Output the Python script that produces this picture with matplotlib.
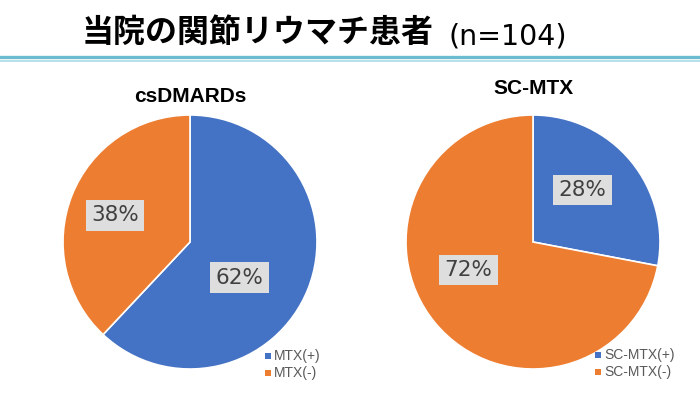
import matplotlib
matplotlib.use("Agg")
import matplotlib.pyplot as plt
from matplotlib.lines import Line2D

title_main = "当院の関節リウマチ患者"
title_n = "(n=104)"
left_title = "csDMARDs"
left_labels = ["MTX(+)", "MTX(-)"]
left_values = [62, 38]
right_title = "SC-MTX"
right_labels = ["SC-MTX(+)", "SC-MTX(-)"]
right_values = [28, 72]
colors = ["#4472C4", "#ED7D31"]

W, H = 700, 394
fig = plt.figure(figsize=(W / 100, H / 100), dpi=100)
fig.patch.set_facecolor("white")

def fx(x):
    return x / W

def fy(y):
    return 1 - y / H

# title
fig.text(fx(258), fy(33), title_main, ha="center", va="center", fontsize=23,
         fontweight="bold", family=["Noto Sans CJK JP", "DejaVu Sans"], color="#000000")
fig.text(fx(508), fy(36), title_n, ha="center", va="center", fontsize=20.5,
         family=["DejaVu Sans"], color="#000000")
# double rule
fig.add_artist(Line2D([0, 1], [fy(56.5), fy(56.5)], color="#6BBCD0", lw=2.4, transform=fig.transFigure))
fig.add_artist(Line2D([0, 1], [fy(60.5), fy(60.5)], color="#A8DCE8", lw=1.2, transform=fig.transFigure))


def draw_pie(cx, cy, r, values, labels, title, title_y, label_pos, legend_x, legend_y):
    ax = fig.add_axes([fx(cx - r), fy(cy + r), 2 * r / W, 2 * r / H])
    wedges, _ = ax.pie(values, colors=colors, startangle=90, counterclock=False,
                       radius=1.0, wedgeprops=dict(edgecolor="white", linewidth=1.2))
    ax.set_xlim(-1.0, 1.0)
    ax.set_ylim(-1.0, 1.0)
    ax.set_aspect("equal")
    ax.axis("off")
    total = sum(values)
    for v, (px, py) in zip(values, label_pos):
        ax.text(px, py, f"{round(100 * v / total)}%", ha="center", va="center",
                fontsize=15.5, color="#404040", family="DejaVu Sans",
                bbox=dict(boxstyle="square,pad=0.25", facecolor="#DEDEDE", edgecolor="none"))
    fig.text(fx(cx), fy(title_y), title, ha="center", va="center", fontsize=15,
             fontweight="bold", family="Liberation Sans", color="#000000")
    for i, (lab, c) in enumerate(zip(labels, colors)):
        y = legend_y + i * 17
        fig.patches.append(plt.Rectangle((fx(legend_x - 3), fy(y + 3)), 6 / W, 6 / H,
                                         facecolor=c, edgecolor="none",
                                         transform=fig.transFigure, figure=fig))
        fig.text(fx(legend_x + 6), fy(y), lab, ha="left", va="center", fontsize=10,
                 family="Liberation Sans", color="#595959")


draw_pie(190, 242, 127, left_values, left_labels, left_title, 96,
         [(0.39, -0.28), (-0.59, 0.21)], 268, 356)
draw_pie(533, 242, 127, right_values, right_labels, right_title, 88,
         [(0.39, 0.41), (-0.51, -0.22)], 598, 355)

fig.savefig("out.png", dpi=100, facecolor="white")
